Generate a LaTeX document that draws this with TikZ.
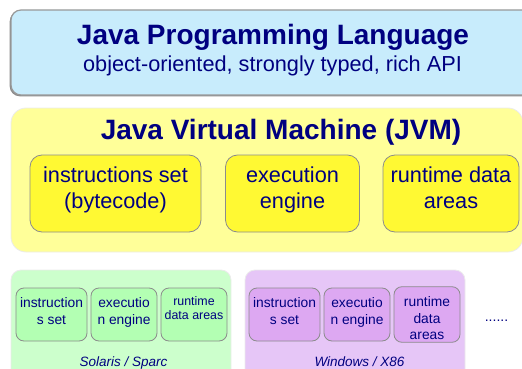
\documentclass[tikz,border=0pt]{standalone}
\usepackage{fontspec}
\setmainfont{Liberation Sans}
\usepackage{tikz}
\usetikzlibrary{shadows}
\definecolor{navytext}{HTML}{000080}
\definecolor{langblue}{HTML}{C8ECFC}
\definecolor{jvmpale}{HTML}{FFFF99}
\definecolor{jvmpart}{HTML}{FFF933}
\definecolor{solgreen}{HTML}{CCFFCC}
\definecolor{solpart}{HTML}{B3FFB3}
\definecolor{winpurple}{HTML}{E6C6F7}
\definecolor{winpart}{HTML}{DDA8F2}
\tikzstyle{langbox} = [rectangle, rounded corners=10pt, fill=langblue, draw=gray!80, line width=1.2pt, drop shadow={shadow xshift=-1.3pt, shadow yshift=-1.3pt, fill=gray!90, opacity=1}]
\tikzstyle{jvmouter} = [rectangle, rounded corners=15pt, fill=jvmpale, draw=black!8, line width=0.8pt]
\tikzstyle{osbox} = [rectangle, rounded corners=10pt, draw=black!8, line width=0.8pt]
\tikzstyle{bigtitle} = [text=navytext, font=\fontsize{28}{34}\selectfont\bfseries, inner sep=0pt]
\tikzstyle{subtitle} = [text=navytext, font=\fontsize{21.7}{26}\selectfont, inner sep=0pt]
\tikzstyle{jvmpartbox} = [rectangle, rounded corners=12pt, fill=jvmpart, draw=gray!90, line width=0.8pt, text=navytext, font=\fontsize{21.7}{26}\selectfont, align=center, minimum height=77pt, text height=34pt, text depth=5pt]
\tikzstyle{smallpart} = [rectangle, rounded corners=8pt, draw=gray!90, line width=0.8pt, text=navytext, font=\fontsize{13.8}{17}\selectfont, align=center, minimum height=53pt, inner sep=0pt, text height=22pt, text depth=3pt]
\tikzstyle{oslabel} = [text=navytext, font=\fontsize{13.5}{16}\selectfont\itshape, inner sep=0pt]

\begin{document}
\begin{tikzpicture}[x=1pt,y=-1pt]
	\useasboundingbox (0,0) rectangle (522,369);
	\clip (0,0) rectangle (522,369);
	% language layer
	\node[langbox, minimum width=524pt, minimum height=85pt] (lang) at (273,52.5) {};
	\node[bigtitle, anchor=base] (langtitle) at (273,45) {Java Programming Language};
	\node[subtitle, anchor=base] (langsub) at (272.5,72) {object-oriented, strongly typed, rich API};
	% virtual machine layer
	\node[jvmouter, minimum width=512pt, minimum height=144pt] (jvm) at (267,180) {};
	\node[bigtitle, anchor=base] (jvmtitle) at (281,139) {Java Virtual Machine (JVM)};
	\node[jvmpartbox, minimum width=171pt] (instr) at (115.5,193.5) {instructions set\\(bytecode)};
	\node[jvmpartbox, minimum width=134pt] (engine) at (292.5,193.5) {execution\\engine};
	\node[jvmpartbox, minimum width=136pt] (rtdata) at (451,193.5) {runtime data\\areas};
	% platform implementations
	\node[osbox, fill=solgreen, minimum width=220pt, minimum height=115pt] (solaris) at (121,327.5) {};
	\node[smallpart, fill=solpart, minimum width=71pt] (solinstr) at (51.5,314.5) {instruction\\s set};
	\node[smallpart, fill=solpart, minimum width=66pt] (solengine) at (124,314.5) {executio\\n engine};
	\node[smallpart, fill=solpart, minimum width=66pt, font=\fontsize{12.4}{14.3}\selectfont, text height=12.6pt] (soldata) at (194,314.5) {runtime\\data areas};
	\node[oslabel, anchor=base] (sollabel) at (123.5,366) {Solaris / Sparc};
	\node[osbox, fill=winpurple, minimum width=220pt, minimum height=115pt] (windows) at (355,327.5) {};
	\node[smallpart, fill=winpart, minimum width=71pt] (wininstr) at (284.5,314.5) {instruction\\s set};
	\node[smallpart, fill=winpart, minimum width=66pt] (winengine) at (357,314.5) {executio\\n engine};
	\node[smallpart, fill=winpart, minimum width=66pt, font=\fontsize{13.8}{16.3}\selectfont, text height=52.6pt] (windata) at (427,314.5) {runtime\\data\\areas};
	\node[oslabel, anchor=base] (winlabel) at (359.5,366) {Windows / X86};
	\node[text=navytext, font=\fontsize{14}{16}\selectfont, inner sep=0pt, anchor=base] (moreos) at (496.5,321) {......};
\end{tikzpicture}
\end{document}
